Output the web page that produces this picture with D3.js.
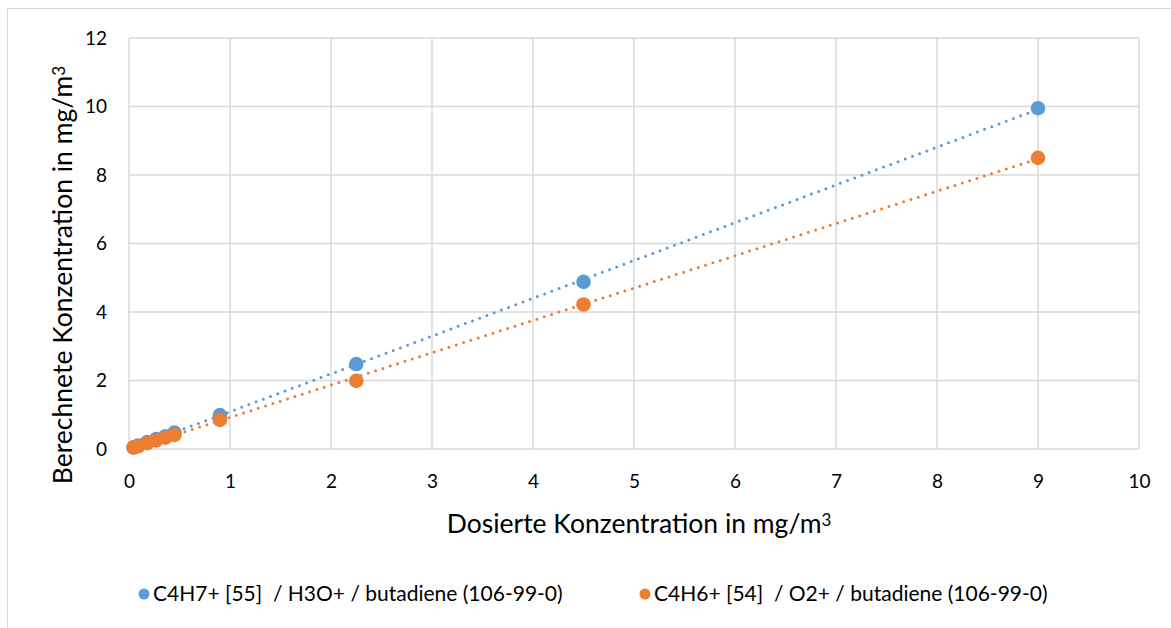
<!DOCTYPE html>
<html>
<head>
<meta charset="utf-8">
<script src="https://cdn.jsdelivr.net/npm/d3@7"></script>
<style>
  html, body { margin: 0; padding: 0; background: #fff; }
  svg { display: block; }
  text { font-family: Lato, "Open Sans", sans-serif; fill: #000; white-space: pre; }
</style>
</head>
<body>
<svg id="chart" width="1171" height="628"></svg>
<script>
// Dosed concentration (mg/m³)
const dosed = [0.045, 0.09, 0.18, 0.27, 0.36, 0.45, 0.9, 2.25, 4.5, 9];
// Calculated concentration (mg/m³) per reagent ion
const seriesH3O = [0.05, 0.1, 0.2, 0.29, 0.37, 0.48, 0.99, 2.48, 4.88, 9.95];
const seriesO2 = [0.04, 0.08, 0.17, 0.25, 0.33, 0.41, 0.85, 1.99, 4.22, 8.5];
const seriesNames = ["C4H7+ [55]  / H3O+ / butadiene (106-99-0)", "C4H6+ [54]  / O2+ / butadiene (106-99-0)"];
const seriesColors = ["#5b9bd5", "#ed7d31"];
const xTicks = [0, 1, 2, 3, 4, 5, 6, 7, 8, 9, 10];
const yTicks = [0, 2, 4, 6, 8, 10, 12];

const svg = d3.select("#chart");
const W = 1171, H = 628;
const FONT = 'Lato, "Open Sans", sans-serif';

// chart frame
svg.append("rect").attr("x", 7.5).attr("y", 8.5).attr("width", W).attr("height", H)
  .attr("fill", "#fff").attr("stroke", "#d9d9d9").attr("stroke-width", 1);

const plot = { left: 129, right: 1139, top: 38, bottom: 449 };
const x = d3.scaleLinear().domain([0, 10]).range([plot.left, plot.right]);
const y = d3.scaleLinear().domain([0, 12]).range([plot.bottom, plot.top]);

// gridlines
const grid = svg.append("g");
grid.selectAll("line.v").data(xTicks).join("line")
  .attr("x1", d => x(d)).attr("x2", d => x(d))
  .attr("y1", plot.top).attr("y2", plot.bottom)
  .attr("stroke", "#d9d9d9").attr("stroke-width", 1.5);
grid.selectAll("line.h").data(yTicks).join("line")
  .attr("x1", plot.left).attr("x2", plot.right)
  .attr("y1", d => y(d)).attr("y2", d => y(d))
  .attr("stroke", "#d9d9d9").attr("stroke-width", 1.5);

// axes (tick labels only)
const xAxis = svg.append("g").attr("transform", `translate(0,${plot.bottom})`)
  .call(d3.axisBottom(x).tickValues(xTicks).tickSize(0).tickPadding(26).tickFormat(d3.format("d")));
const yAxis = svg.append("g").attr("transform", `translate(${plot.left},0)`)
  .call(d3.axisLeft(y).tickValues(yTicks).tickSize(0).tickPadding(22).tickFormat(d3.format("d")));
[xAxis, yAxis].forEach(a => {
  a.select(".domain").remove();
  a.selectAll("text").style("font-size", "19px").style("font-family", FONT).attr("fill", "#000");
});

// axis titles, with a raised "3" for m³
function unitTitle(sel, label) {
  sel.append("tspan").text(label + " in mg/m");
  sel.append("tspan").attr("dy", "-0.4em").style("font-size", "17px").text("3");
}
svg.append("text").attr("x", 639).attr("y", 533)
  .attr("text-anchor", "middle").style("font-size", "26.5px")
  .call(unitTitle, "Dosierte Konzentration");
svg.append("text").attr("transform", "translate(72,275) rotate(-90)")
  .attr("text-anchor", "middle").style("font-size", "26.5px")
  .call(unitTitle, "Berechnete Konzentration");

// linear trendlines (least squares) + markers
const allSeries = [seriesH3O, seriesO2];
function fit(xs, ys) {
  const mx = d3.mean(xs), my = d3.mean(ys);
  let sxy = 0, sxx = 0;
  xs.forEach((v, i) => { sxy += (v - mx) * (ys[i] - my); sxx += (v - mx) * (v - mx); });
  const b = sxy / sxx;
  return { a: my - b * mx, b };
}
const xMin = d3.min(dosed), xMax = d3.max(dosed);
allSeries.forEach((ys, i) => {
  const f = fit(dosed, ys);
  svg.append("line")
    .attr("x1", x(xMin)).attr("y1", y(f.a + f.b * xMin))
    .attr("x2", x(xMax)).attr("y2", y(f.a + f.b * xMax))
    .attr("stroke", seriesColors[i]).attr("stroke-width", 3)
    .attr("stroke-linecap", "round").attr("stroke-dasharray", "0 7.7");
});
allSeries.forEach((ys, i) => {
  svg.append("g").selectAll("circle").data(dosed).join("circle")
    .attr("cx", d => x(d)).attr("cy", (d, j) => y(ys[j]))
    .attr("r", 7.3).attr("fill", seriesColors[i]);
});

// legend
const legendX = [144, 645];
seriesNames.forEach((name, i) => {
  svg.append("circle").attr("cx", legendX[i]).attr("cy", 594).attr("r", 5.5).attr("fill", seriesColors[i]);
  svg.append("text").attr("x", legendX[i] + 9).attr("y", 601).style("font-size", "21px").text(name);
});
</script>
</body>
</html>
